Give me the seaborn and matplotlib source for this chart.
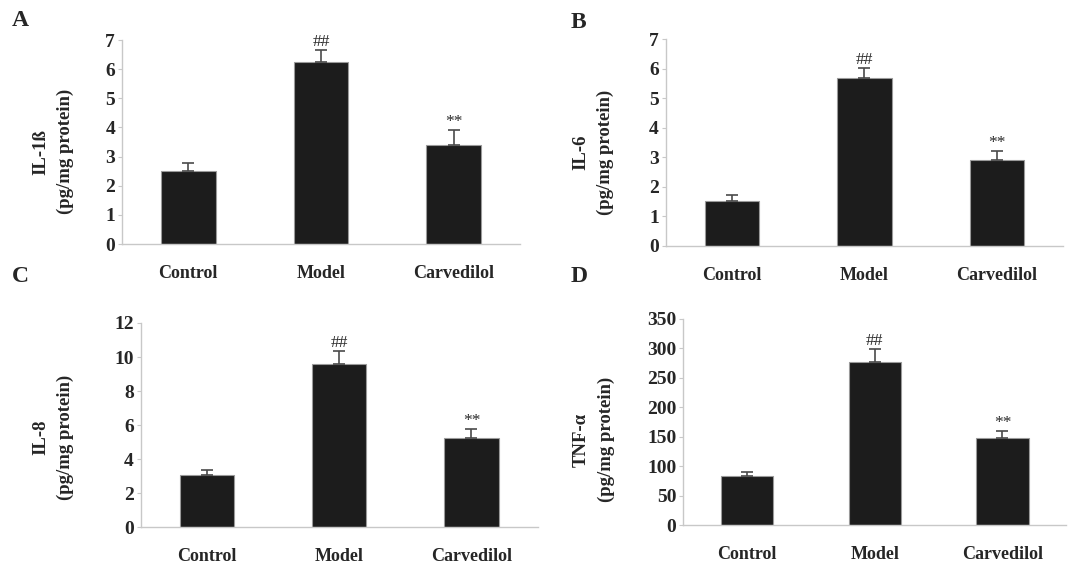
import numpy as np
import pandas as pd
import matplotlib
matplotlib.use("Agg")
import matplotlib.pyplot as plt
import seaborn as sns

sns.set_style("white")
plt.rcParams['font.family'] = ['Liberation Serif', 'DejaVu Serif']

categories = ["Control", "Model", "Carvedilol"]

il1b_values = [2.52, 6.25, 3.40]
il1b_errors = [0.25, 0.42, 0.52]

il6_values = [1.52, 5.70, 2.90]
il6_errors = [0.20, 0.31, 0.32]

il8_values = [3.05, 9.59, 5.23]
il8_errors = [0.31, 0.76, 0.56]

tnf_values = [84.0, 277.5, 148.6]
tnf_errors = [6.0, 21.0, 11.0]

marks = ["", "##", "**"]

panels = [
    dict(letter="A", label="IL-1\u00df\n(pg/mg protein)", vals=il1b_values, errs=il1b_errors,
         ylim=(0, 7), ticks=np.arange(0, 8, 1),
         pos=[0.1142, 0.5689, 0.3727, 0.3604], lab=(-0.121, 0.452), letter_xy=(20, 21)),
    dict(letter="B", label="IL-6\n(pg/mg protein)", vals=il6_values, errs=il6_errors,
         ylim=(0, 7), ticks=np.arange(0, 8, 1),
         pos=[0.6233, 0.5659, 0.3722, 0.3647], lab=(-0.13, 0.452), letter_xy=(578, 22)),
    dict(letter="C", label="IL-8\n(pg/mg protein)", vals=il8_values, errs=il8_errors,
         ylim=(0, 12), ticks=np.arange(0, 13, 2),
         pos=[0.1317, 0.0684, 0.3717, 0.3610], lab=(-0.168, 0.442), letter_xy=(20, 276)),
    dict(letter="D", label="TNF-\u03b1\n(pg/mg protein)", vals=tnf_values, errs=tnf_errors,
         ylim=(0, 350), ticks=np.arange(0, 351, 50),
         pos=[0.6398, 0.0719, 0.3586, 0.3645], lab=(-0.179, 0.415), letter_xy=(579, 277)),
]

W, H = 1068, 566
fig = plt.figure(figsize=(W / 100, H / 100), dpi=100)

spine_col = "#c8c8c8"
for p in panels:
    ax = fig.add_axes(p["pos"])
    df = pd.DataFrame({"group": categories, "value": p["vals"]})
    sns.barplot(data=df, x="group", y="value", ax=ax, color="#1c1c1c",
                width=0.41, edgecolor="#9a9a9a", linewidth=0.8, saturation=1,
                errorbar=None)
    xs = np.arange(len(categories))
    ax.errorbar(xs, p["vals"], yerr=[np.zeros(len(xs)), p["errs"]], fmt="none",
                ecolor="#4a4a4a", elinewidth=1.2, capsize=4, capthick=1.2, zorder=1)
    for x, v, e, m in zip(xs, p["vals"], p["errs"], marks):
        if m:
            ax.text(x, v + e, m, ha="center", va="bottom", fontsize=12.5,
                    color="#2a2a2a")
    ax.set_xlim(-0.5, 2.5)
    ax.set_ylim(*p["ylim"])
    ax.set_yticks(p["ticks"])
    ax.set_yticklabels([str(int(t)) for t in p["ticks"]], fontsize=14, fontweight="bold")
    ax.set_xticks(xs)
    ax.set_xticklabels(categories, fontsize=13, fontweight="bold")
    ax.set_xticks([0.5, 1.5], minor=True)
    ax.tick_params(axis="x", which="major", length=0, pad=15)
    ax.tick_params(axis="x", which="minor", length=4, direction="in", color=spine_col)
    ax.tick_params(axis="y", length=3, width=0.8, color=spine_col, pad=2, left=True)
    ax.set_xlabel("")
    ax.set_ylabel(p["label"], fontsize=13.5, fontweight="bold", linespacing=1.55)
    ax.yaxis.set_label_coords(*p["lab"])
    for s in ["top", "right"]:
        ax.spines[s].set_visible(False)
    for s in ["left", "bottom"]:
        ax.spines[s].set_color(spine_col)
        ax.spines[s].set_linewidth(1.0)
    lx, ly = p["letter_xy"]
    fig.text(lx / W, 1 - ly / H, p["letter"], fontsize=17, fontweight="bold",
             ha="center", va="center")

fig.savefig("out.png", dpi=100)
